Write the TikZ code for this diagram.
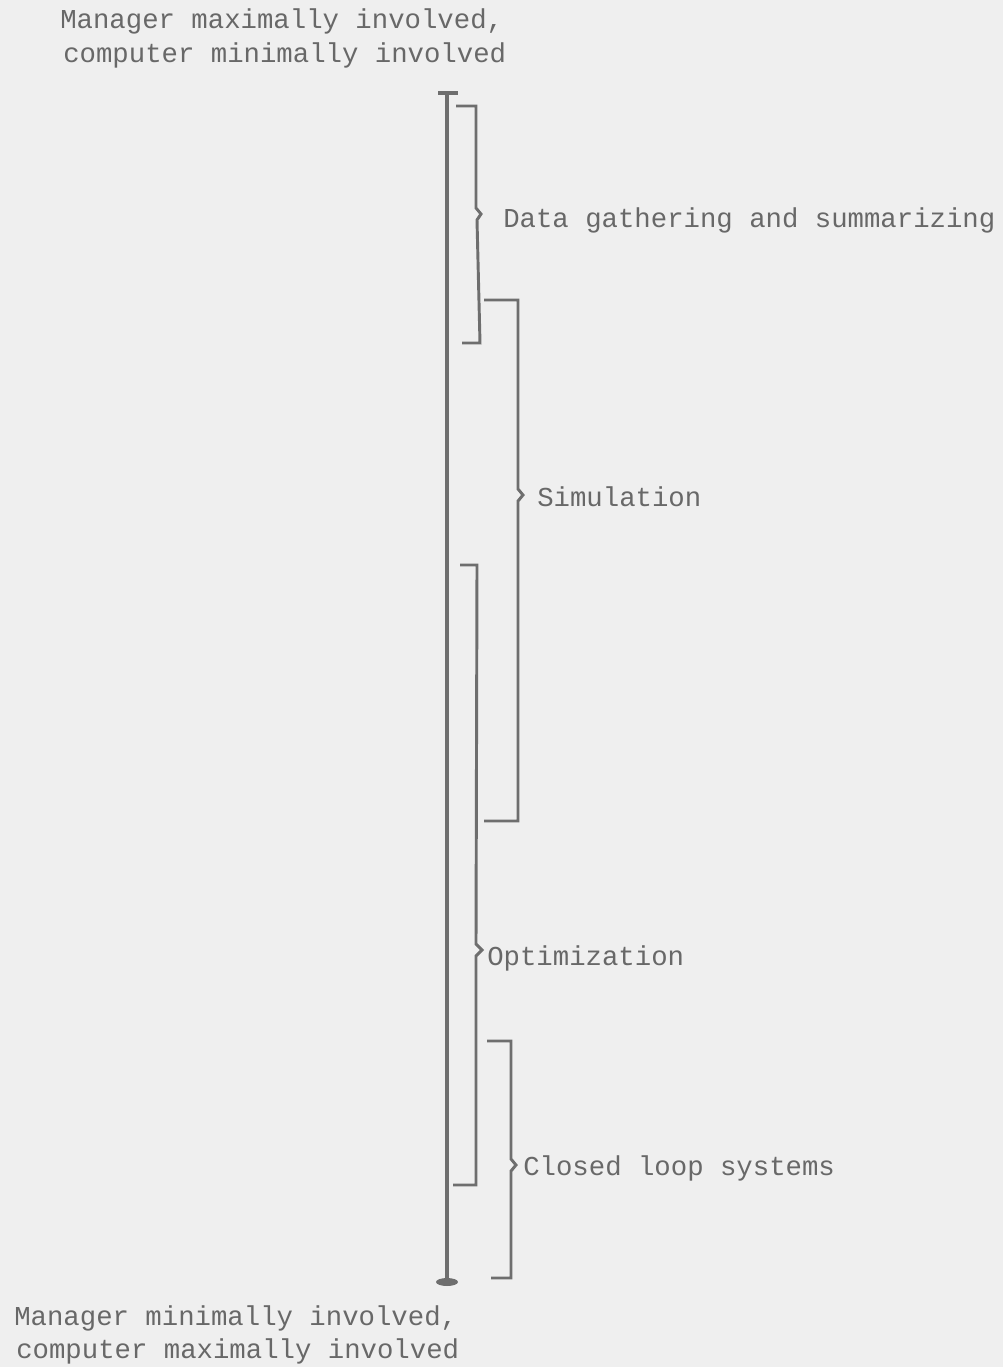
\documentclass[tikz,border=0pt]{standalone}
\usepackage{fontspec}
\setmainfont{Liberation Mono}
\definecolor{bg}{HTML}{EFEFEF}
\definecolor{ink}{HTML}{6E6E6E}
\definecolor{txt}{HTML}{686868}
\begin{document}
\begin{tikzpicture}[x=0.75pt,y=-0.75pt,
  lbl/.style={anchor=mid west,inner sep=0pt,text=txt,font=\fontsize{20.5}{24}\selectfont},
  axisline/.style={draw=ink,line width=3pt},
  brk/.style={draw=ink,line width=2.2pt,line join=miter}]
\fill[bg] (0,0) rectangle (1003,1367);
\useasboundingbox (0,0) rectangle (1003,1367);
% texts
\node[lbl] (t1) at (60,25) {Manager maximally involved,};
\node[lbl] (t2) at (63,59) {computer minimally involved};
\node[lbl] (b1) at (14,1322) {Manager minimally involved,};
\node[lbl] (b2) at (16,1355) {computer maximally involved};
\node[lbl] (l1) at (503,224) {Data gathering and summarizing};
\node[lbl] (l2) at (537,503) {Simulation};
\node[lbl] (l3) at (487,962) {Optimization};
\node[lbl] (l4) at (523,1172) {Closed loop systems};
% axis
\coordinate (atop) at (447,93);
\coordinate (abot) at (447,1282);
\draw[axisline] (atop) -- (abot);
\draw[axisline] (438,93) -- (458,93);
\fill[ink] (abot) ellipse (11 and 4);
% brackets
\draw[brk] (456,106) -- (476,106) -- (476,208) -- (481,214) -- (477,220) -- (480,343) -- (462,343);
\draw[brk] (484,300) -- (518,300) -- (518,489) -- (523,495) -- (518,501) -- (518,821) -- (484,821);
\draw[brk] (460,565) -- (477,565) -- (476,944) -- (482,950) -- (476,956) -- (476,1185) -- (453,1185);
\draw[brk] (487,1041) -- (511,1041) -- (511,1159) -- (516,1165) -- (511,1171) -- (511,1278) -- (491,1278);
\end{tikzpicture}
\end{document}
